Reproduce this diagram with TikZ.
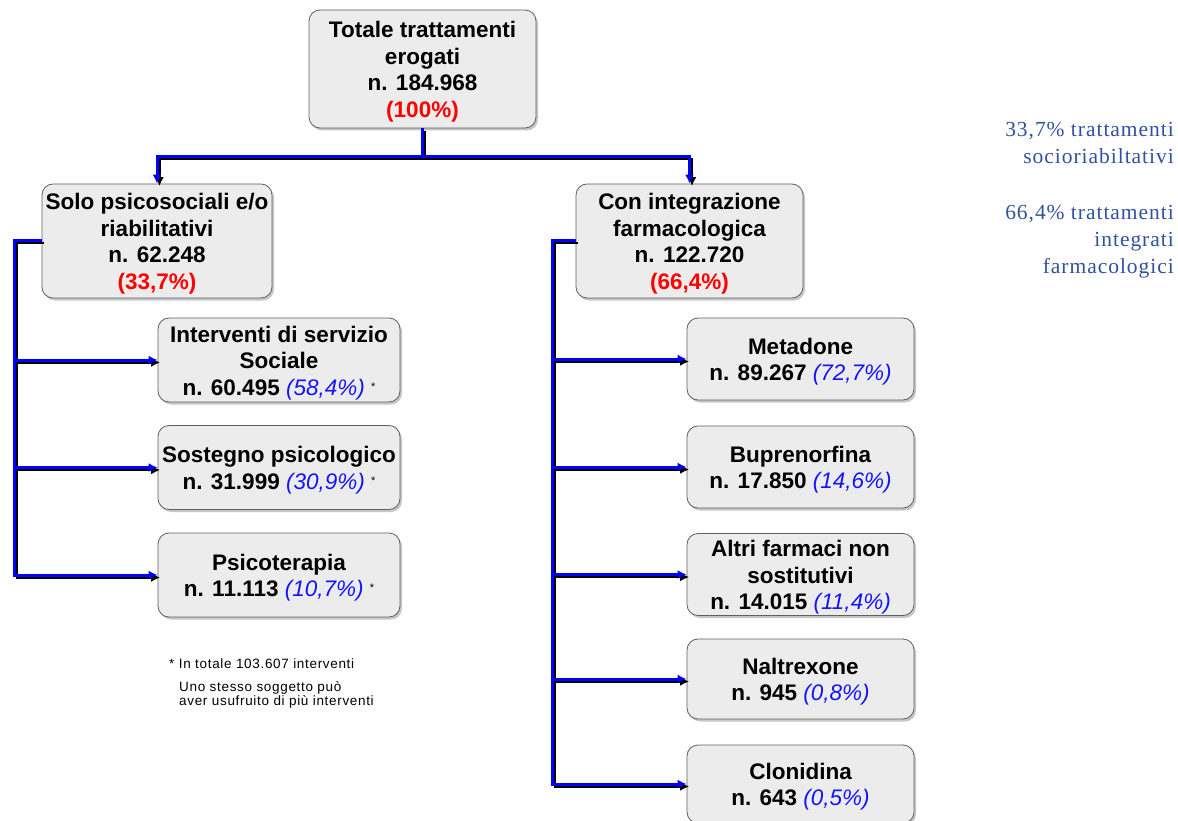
\documentclass[tikz,border=0pt]{standalone}
\usepackage{fontspec}
\setmainfont{Liberation Sans}
\newfontfamily\serifont[LetterSpace=4.5]{Liberation Serif}
\newfontfamily\notefont[LetterSpace=5]{Liberation Sans}
\usetikzlibrary{arrows.meta,shadows}
\definecolor{pctred}{RGB}{255,0,0}
\definecolor{pctblue}{RGB}{20,20,255}
\definecolor{sidetext}{RGB}{50,80,160}
\definecolor{boxfill}{RGB}{236,236,236}
\newcommand{\boxfont}{\fontsize{22.5}{26.5}\selectfont\bfseries}
\newcommand{\fl}{\rule{0pt}{22pt}}
\newcommand{\myast}{{\normalfont\fontsize{11}{11}\selectfont\raisebox{5pt}{*}}}
\newcommand{\pr}[1]{{\color{pctred}(#1\%)}}
\newcommand{\pb}[1]{{\normalfont\itshape\color{pctblue}(#1\%)}}
\tikzset{
  box/.style={draw=gray!75!black, line width=0.8pt, rounded corners=11pt,
    fill=boxfill, align=center, inner sep=0pt, font=\boxfont,
    drop shadow={shadow xshift=2pt, shadow yshift=-2.5pt, opacity=0.45}},
  conn/.style={draw=blue, line width=3pt,
    preaction={draw=black, line width=2pt, transform canvas={xshift=2.5pt,yshift=-2.5pt}}},
  arr/.style={-{Latex[length=9pt,width=9pt]}},
  side/.style={anchor=north east, inner sep=0pt, align=right, text=sidetext, font=\serifont\fontsize{21.5}{27}\selectfont}
}
\begin{document}
\begin{tikzpicture}[x=1pt,y=-1pt]
\useasboundingbox (0,0) rectangle (1178,821);
% boxes
\node[box, minimum width=227pt, minimum height=118pt] (top) at (422.5,69) {\fl Totale trattamenti\\erogati\\n. 184.968\\\pr{100}};
\node[box, minimum width=230pt, minimum height=114pt] (lmid) at (157,241) {\fl Solo psicosociali e/o\\riabilitativi\\n. 62.248\\\pr{33,7}};
\node[box, minimum width=227pt, minimum height=114pt] (rmid) at (689.5,241) {\fl Con integrazione\\farmacologica\\n. 122.720\\\pr{66,4}};
\node[box, minimum width=242pt, minimum height=84pt] (inter) at (279,360) {\fl Interventi di servizio\\Sociale\\n. 60.495 \pb{58,4} \myast};
\node[box, minimum width=242pt, minimum height=84pt] (soste) at (279,467.5) {\fl Sostegno psicologico\\n. 31.999 \pb{30,9} \myast};
\node[box, minimum width=242pt, minimum height=84pt] (psico) at (279,575) {\fl Psicoterapia\\n. 11.113 \pb{10,7} \myast};
\node[box, minimum width=227pt, minimum height=82pt] (meta) at (800.5,359) {\fl Metadone\\n. 89.267 \pb{72,7}};
\node[box, minimum width=227pt, minimum height=82pt] (bupr) at (800.5,467) {\fl Buprenorfina\\n. 17.850 \pb{14,6}};
\node[box, minimum width=227pt, minimum height=82pt] (altri) at (800.5,574.5) {\fl Altri farmaci non\\sostitutivi\\n. 14.015 \pb{11,4}};
\node[box, minimum width=227pt, minimum height=80pt] (naltr) at (800.5,679) {\fl Naltrexone\\n. 945 \pb{0,8}};
\node[box, minimum width=227pt, minimum height=78pt] (cloni) at (800.5,784) {\fl Clonidina\\n. 643 \pb{0,5}};
% connectors from top
\coordinate (tj) at (top.south |- 0,157);
\draw[conn] (top.south) -- (tj);
\draw[conn,arr] (tj) -| (lmid.north);
\draw[conn,arr] (tj) -| (rmid.north);
% left spine
\coordinate (ls) at (lmid.west -| 14,0);
\draw[conn,arr] (lmid.west) -- (ls) |- (psico.west);
\draw[conn,arr] (ls |- inter.west) -- (inter.west);
\draw[conn,arr] (ls |- soste.west) -- (soste.west);
% right spine
\coordinate (rs) at (rmid.west -| 552,0);
\draw[conn,arr] (rmid.west) -- (rs) |- (cloni.west);
\draw[conn,arr] (rs |- meta.west) -- (meta.west);
\draw[conn,arr] (rs |- bupr.west) -- (bupr.west);
\draw[conn,arr] (rs |- altri.west) -- (altri.west);
\draw[conn,arr] (rs |- naltr.west) -- (naltr.west);
% footnote
\node[anchor=west, inner sep=0pt, font=\notefont\fontsize{13.5}{14}\selectfont] (note1) at (169,664) {* In totale 103.607 interventi};
\node[anchor=north west, inner sep=0pt, align=left, font=\notefont\fontsize{13.5}{14}\selectfont] (note2) at (179,681) {Uno stesso soggetto può\\aver usufruito di più interventi};
% side text
\node[side] (side1) at (1174,122) {33,7\% trattamenti\\socioriabiltativi};
\node[side] (side2) at (1174,205) {66,4\% trattamenti\\integrati\\farmacologici};
\end{tikzpicture}
\end{document}
